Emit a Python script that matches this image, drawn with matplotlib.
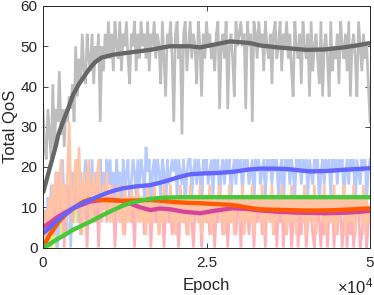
import numpy as np
import matplotlib
matplotlib.use("Agg")
import matplotlib.pyplot as plt

plt.rcParams['font.family'] = ['Liberation Sans', 'DejaVu Sans']
plt.rcParams['mathtext.fontset'] = 'custom'
plt.rcParams['mathtext.rm'] = 'Liberation Sans'

# ---------------- raw (noisy) series, sampled evenly over 0..50000 epochs ----------------
gray_raw = [
    34.4, 25.0, 21.9, 34.4, 28.1, 21.9, 40.6, 25.0, 34.4, 31.2, 43.8, 28.1, 34.4, 25.0, 34.4, 31.2, 37.5, 34.4, 40.6, 31.2,
    50.0, 37.5, 46.9, 40.6, 53.1, 43.8, 40.6, 53.1, 46.9, 43.8, 53.1, 40.6, 50.0, 46.9, 53.1, 31.2, 50.0, 43.8, 53.1, 46.9,
    56.2, 46.9, 53.1, 43.8, 56.2, 50.0, 46.9, 56.2, 43.8, 53.1, 50.0, 56.2, 46.9, 40.6, 53.1, 50.0, 56.2, 43.8, 53.1, 46.9,
    56.2, 50.0, 53.1, 46.9, 56.2, 43.8, 53.1, 50.0, 56.2, 46.9, 53.1, 50.0, 40.6, 56.2, 46.9, 37.5, 53.1, 50.0, 56.2, 46.9,
    31.2, 53.1, 56.2, 46.9, 50.0, 28.1, 53.1, 56.2, 43.8, 50.0, 56.2, 46.9, 53.1, 50.0, 40.6, 56.2, 50.0, 37.5, 53.1, 46.9,
    56.2, 50.0, 53.1, 46.9, 50.0, 43.8, 53.1, 56.2, 34.4, 50.0, 53.1, 46.9, 56.2, 34.4, 50.0, 53.1, 46.9, 37.5, 56.2, 50.0,
    53.1, 56.2, 50.0, 53.1, 34.4, 56.2, 50.0, 53.1, 31.2, 56.2, 53.1, 46.9, 56.2, 50.0, 53.1, 43.8, 56.2, 50.0, 46.9, 53.1,
    40.6, 53.1, 56.2, 46.9, 50.0, 56.2, 43.8, 53.1, 50.0, 56.2, 46.9, 53.1, 43.8, 37.5, 56.2, 50.0, 46.9, 53.1, 40.6, 56.2,
    50.0, 46.9, 53.1, 37.5, 56.2, 43.8, 50.0, 53.1, 46.9, 40.6, 56.2, 37.5, 50.0, 53.1, 46.9, 37.5, 56.2, 43.8, 50.0, 46.9,
    53.1, 40.6, 56.2, 50.0, 46.9, 53.1, 43.8, 56.2, 37.5, 50.0, 53.1, 46.9, 37.5, 56.2, 50.0, 43.8, 53.1, 46.9, 50.0, 40.6, 31.2,
]

blue_raw = [
    3.1, 9.4, 0.0, 12.5, 6.2, 15.6, 3.1, 9.4, 18.8, 0.0, 12.5, 6.2, 21.9, 9.4, 3.1, 15.6, 12.5, 0.0, 18.8, 9.4,
    12.5, 21.9, 6.2, 18.8, 9.4, 15.6, 21.9, 3.1, 18.8, 12.5, 21.9, 9.4, 15.6, 18.8, 6.2, 21.9, 12.5, 18.8, 9.4, 21.9,
    15.6, 21.9, 12.5, 18.8, 9.4, 21.9, 15.6, 18.8, 6.2, 21.9, 12.5, 18.8, 21.9, 9.4, 15.6, 21.9, 18.8, 12.5, 21.9, 15.6,
    21.9, 18.8, 12.5, 25.0, 18.8, 21.9, 9.4, 18.8, 21.9, 15.6, 21.9, 18.8, 12.5, 21.9, 18.8, 6.2, 21.9, 15.6, 18.8, 21.9,
    18.8, 21.9, 12.5, 21.9, 18.8, 15.6, 21.9, 9.4, 18.8, 21.9, 21.9, 12.5, 18.8, 21.9, 15.6, 21.9, 18.8, 6.2, 21.9, 18.8,
    21.9, 15.6, 18.8, 21.9, 12.5, 21.9, 18.8, 21.9, 9.4, 18.8, 21.9, 15.6, 21.9, 18.8, 21.9, 12.5, 18.8, 21.9, 15.6, 21.9,
    18.8, 21.9, 12.5, 21.9, 18.8, 21.9, 15.6, 18.8, 21.9, 9.4, 21.9, 18.8, 21.9, 15.6, 18.8, 21.9, 12.5, 21.9, 18.8, 21.9,
    15.6, 21.9, 18.8, 21.9, 12.5, 18.8, 21.9, 6.2, 21.9, 18.8, 21.9, 15.6, 21.9, 18.8, 12.5, 21.9, 18.8, 21.9, 15.6, 21.9,
    18.8, 21.9, 12.5, 21.9, 18.8, 15.6, 21.9, 18.8, 21.9, 9.4, 18.8, 21.9, 15.6, 21.9, 18.8, 21.9, 12.5, 21.9, 18.8, 21.9,
    15.6, 21.9, 18.8, 21.9, 12.5, 18.8, 21.9, 15.6, 21.9, 18.8, 21.9, 9.4, 21.9, 18.8, 15.6, 21.9, 18.8, 21.9, 12.5, 18.8, 21.9,
]

pink_raw = [
    6.2, 3.1, 9.4, 0.0, 12.5, 6.2, 15.6, 3.1, 12.5, 9.4, 18.8, 6.2, 12.5, 0.0, 15.6, 9.4, 12.5, 18.8, 6.2, 12.5,
    15.6, 9.4, 12.5, 3.1, 15.6, 12.5, 9.4, 0.0, 12.5, 15.6, 9.4, 12.5, 6.2, 15.6, 0.0, 12.5, 9.4, 15.6, 12.5, 6.2,
    12.5, 9.4, 15.6, 12.5, 0.0, 9.4, 12.5, 6.2, 12.5, 9.4, 3.1, 12.5, 9.4, 12.5, 6.2, 9.4, 0.0, 12.5, 9.4, 6.2,
    9.4, 12.5, 3.1, 9.4, 6.2, 12.5, 0.0, 9.4, 12.5, 6.2, 9.4, 3.1, 12.5, 9.4, 0.0, 9.4, 12.5, 6.2, 9.4, 3.1,
    9.4, 12.5, 6.2, 0.0, 9.4, 12.5, 6.2, 9.4, 3.1, 12.5, 9.4, 6.2, 0.0, 9.4, 12.5, 6.2, 9.4, 0.0, 9.4, 12.5,
    6.2, 9.4, 3.1, 12.5, 9.4, 0.0, 9.4, 6.2, 12.5, 9.4, 3.1, 9.4, 12.5, 0.0, 9.4, 6.2, 12.5, 9.4, 3.1, 9.4,
    12.5, 0.0, 9.4, 6.2, 12.5, 9.4, 3.1, 9.4, 12.5, 0.0, 9.4, 6.2, 9.4, 12.5, 3.1, 9.4, 0.0, 12.5, 9.4, 6.2,
    9.4, 3.1, 12.5, 0.0, 9.4, 6.2, 12.5, 0.0, 9.4, 3.1, 12.5, 9.4, 0.0, 6.2, 9.4, 12.5, 0.0, 9.4, 3.1, 12.5,
    9.4, 0.0, 6.2, 12.5, 9.4, 3.1, 0.0, 9.4, 12.5, 6.2, 0.0, 9.4, 3.1, 12.5, 0.0, 9.4, 6.2, 12.5, 0.0, 9.4,
    3.1, 12.5, 9.4, 0.0, 6.2, 9.4, 0.0, 12.5, 3.1, 9.4, 0.0, 6.2, 12.5, 9.4, 0.0, 3.1, 9.4, 12.5, 0.0, 6.2, 9.4,
]

peach_raw = [
    0.0, 3.1, 9.4, 6.2, 12.5, 3.1, 15.6, 9.4, 18.8, 6.2, 12.5, 21.9, 9.4, 15.6, 6.2, 18.8, 31.2, 12.5, 9.4, 15.6,
    21.9, 9.4, 25.0, 12.5, 6.2, 18.8, 9.4, 15.6, 21.9, 6.2, 12.5, 18.8, 9.4, 15.6, 21.9, 12.5, 6.2, 15.6, 9.4, 18.8,
    12.5, 6.2, 15.6, 6.2, 12.5, 9.4, 15.6, 6.2, 12.5, 3.1, 15.6, 6.2, 12.5, 6.2, 15.6, 9.4, 12.5, 6.2, 15.6, 6.2,
    12.5, 6.2, 12.5, 3.1, 15.6, 6.2, 12.5, 6.2, 15.6, 9.4, 12.5, 3.1, 12.5, 6.2, 15.6, 6.2, 12.5, 9.4, 15.6, 6.2,
    12.5, 3.1, 12.5, 6.2, 15.6, 6.2, 12.5, 6.2, 12.5, 3.1, 15.6, 6.2, 12.5, 9.4, 12.5, 6.2, 15.6, 3.1, 12.5, 6.2,
    12.5, 6.2, 15.6, 3.1, 12.5, 6.2, 12.5, 9.4, 15.6, 6.2, 12.5, 3.1, 12.5, 6.2, 15.6, 6.2, 12.5, 3.1, 12.5, 9.4,
    12.5, 6.2, 15.6, 3.1, 12.5, 6.2, 12.5, 6.2, 15.6, 3.1, 12.5, 9.4, 12.5, 6.2, 15.6, 3.1, 12.5, 6.2, 12.5, 6.2,
    15.6, 3.1, 12.5, 6.2, 12.5, 9.4, 15.6, 6.2, 12.5, 3.1, 12.5, 6.2, 15.6, 6.2, 12.5, 3.1, 12.5, 9.4, 12.5, 6.2,
    15.6, 3.1, 12.5, 6.2, 12.5, 6.2, 15.6, 3.1, 12.5, 9.4, 12.5, 6.2, 15.6, 3.1, 12.5, 6.2, 12.5, 6.2, 15.6, 3.1,
    12.5, 6.2, 12.5, 9.4, 15.6, 3.1, 12.5, 6.2, 12.5, 6.2, 15.6, 3.1, 12.5, 9.4, 12.5, 6.2, 15.6, 3.1, 12.5, 6.2, 9.4,
]

lime_raw = [
    0.0, 0.0, 3.1, 0.0, 3.1, 0.0, 3.1, 6.2, 0.0, 3.1, 3.1, 6.2, 3.1, 6.2, 9.4, 3.1, 6.2, 3.1, 9.4, 6.2,
    18.8, 6.2, 12.5, 9.4, 3.1, 12.5, 9.4, 6.2, 12.5, 9.4, 12.5, 6.2, 12.5, 9.4, 12.5, 12.5, 9.4, 12.5, 12.5, 9.4,
    12.5, 12.5, 9.4, 12.5, 12.5, 12.5, 9.4, 12.5, 12.5, 12.5, 12.5, 9.4, 12.5, 12.5, 12.5, 12.5, 12.5, 9.4, 12.5, 12.5,
    12.5, 12.5, 12.5, 12.5, 12.5, 9.4, 12.5, 12.5, 12.5, 12.5, 12.5, 12.5, 12.5, 12.5, 12.5, 12.5, 12.5, 12.5, 12.5, 12.5,
    12.5, 12.5, 12.5, 12.5, 12.5, 12.5, 6.2, 12.5, 9.4, 12.5, 12.5, 12.5, 12.5, 12.5, 12.5, 12.5, 12.5, 12.5, 12.5, 12.5,
    12.5, 12.5, 12.5, 12.5, 12.5, 12.5, 12.5, 12.5, 12.5, 12.5, 12.5, 12.5, 12.5, 12.5, 12.5, 9.4, 12.5, 12.5, 12.5, 12.5,
    12.5, 12.5, 9.4, 12.5, 12.5, 12.5, 12.5, 12.5, 12.5, 12.5, 12.5, 12.5, 12.5, 12.5, 12.5, 12.5, 12.5, 12.5, 12.5, 12.5,
    12.5, 12.5, 12.5, 12.5, 12.5, 12.5, 12.5, 12.5, 12.5, 12.5, 12.5, 12.5, 12.5, 9.4, 12.5, 12.5, 12.5, 12.5, 12.5, 12.5,
    12.5, 12.5, 12.5, 12.5, 12.5, 12.5, 12.5, 12.5, 12.5, 12.5, 12.5, 12.5, 9.4, 12.5, 12.5, 9.4, 12.5, 12.5, 9.4, 12.5,
    12.5, 12.5, 12.5, 12.5, 12.5, 12.5, 12.5, 12.5, 12.5, 12.5, 12.5, 12.5, 12.5, 12.5, 12.5, 12.5, 12.5, 12.5, 12.5, 12.5, 12.5,
]

# ---------------- smoothed curves (epoch, value) ----------------
gray_sm_x = [0, 1000, 2000, 2340, 3000, 4000, 4590, 5500, 6500, 7190, 8000, 8980, 10700, 13000, 16360, 19400,
             22480, 24000, 25540, 28600, 31650, 33180, 36000, 40320, 43000, 45870, 48000, 50000]
gray_sm_y = [13.5, 19.5, 25.5, 28.0, 31.0, 35.2, 37.9, 40.6, 43.0, 44.6, 46.1, 47.2, 47.9, 48.4, 49.1, 50.0,
             50.0, 49.7, 50.2, 51.2, 50.8, 50.2, 49.7, 49.1, 49.2, 49.7, 50.2, 50.8]

blue_sm_x = [0, 1000, 2000, 3300, 4600, 5900, 7200, 8500, 9700, 11000, 12200, 14300, 16400, 17900, 19400, 21000,
             22500, 24500, 26500, 29000, 31600, 33200, 35300, 37300, 39000, 40800, 43300, 45900, 48000, 50000]
blue_sm_y = [3.5, 4.9, 6.4, 8.2, 9.75, 10.9, 11.8, 12.7, 13.5, 14.2, 14.7, 15.2, 15.5, 16.1, 16.8, 17.6,
             18.2, 18.4, 18.5, 18.8, 19.4, 19.6, 19.6, 19.5, 19.2, 18.9, 19.0, 19.3, 19.5, 19.7]

orange_sm_x = [0, 500, 1000, 1800, 2600, 3600, 4700, 5500, 6200, 7200, 9000, 12000, 14300, 16400, 18200, 20000,
               22000, 24000, 26300, 28600, 30000, 31000, 32200, 33200, 35000, 37500, 40000, 42500, 45000, 47500, 50000]
orange_sm_y = [0.0, 1.6, 3.1, 5.0, 6.8, 8.4, 9.75, 10.7, 11.4, 12.0, 11.8, 11.6, 11.7, 11.8, 11.6, 11.3,
               11.1, 11.0, 10.8, 10.6, 10.3, 10.0, 9.7, 9.5, 9.4, 9.3, 9.2, 9.2, 9.3, 9.5, 9.75]

magenta_sm_x = [0, 1000, 2000, 3300, 4600, 5900, 7200, 8500, 9700, 11000, 12200, 13500, 14800, 16400, 17900,
                19400, 21500, 24000, 26500, 29000, 31000, 33200, 35700, 38200, 40800, 43300, 47000, 50000]
magenta_sm_y = [5.0, 6.1, 7.3, 8.6, 9.75, 10.6, 11.4, 11.7, 11.9, 11.8, 11.5, 10.8, 10.0, 9.3, 9.7,
                9.5, 8.9, 8.5, 9.2, 9.75, 9.6, 9.2, 8.9, 8.7, 8.6, 8.5, 8.7, 9.1]

green_sm_x = [0, 1000, 2000, 3300, 4600, 5900, 7200, 8500, 9700, 11000, 12200, 13500, 14800, 16400, 18500,
              21000, 30000, 40000, 50000]
green_sm_y = [0.0, 0.8, 1.9, 3.1, 4.4, 5.4, 6.4, 7.5, 8.5, 9.5, 10.4, 11.1, 11.6, 12.1, 12.4,
              12.5, 12.5, 12.5, 12.5]

x_ticks = [0, 25000, 50000]
x_tick_labels = ['0', '2.5', '5']
y_ticks = [0, 10, 20, 30, 40, 50, 60]

# ---------------- figure ----------------
W, H = 374, 295
fig = plt.figure(figsize=(W / 100, H / 100), dpi=100)
ax = fig.add_axes([43 / W, 1 - 247.5 / H, (370 - 43) / W, (247.5 - 6) / H])

raw_lw = 1.9
def raw_plot(vals, color):
    xs = np.linspace(0, 50000, len(vals))
    ax.plot(xs, vals, color=color, lw=raw_lw, solid_joinstyle='miter')

raw_plot(lime_raw, '#d6f07c')
raw_plot(gray_raw, '#bdbdbd')
raw_plot(blue_raw, '#b5c9ff')
raw_plot(pink_raw, '#ffb0b8')
raw_plot(peach_raw, '#ffc3a6')

sm_lw = 3.1
ax.plot(gray_sm_x, gray_sm_y, color='#666666', lw=sm_lw, solid_capstyle='butt')
ax.plot(magenta_sm_x, magenta_sm_y, color='#d6439b', lw=sm_lw, solid_capstyle='butt')
ax.plot(orange_sm_x, orange_sm_y, color='#ff5a00', lw=sm_lw, solid_capstyle='butt')
ax.plot(blue_sm_x, blue_sm_y, color='#6464ff', lw=sm_lw, solid_capstyle='butt')
ax.plot(green_sm_x, green_sm_y, color='#46c83a', lw=sm_lw, solid_capstyle='butt')

ax.set_xlim(0, 50000)
ax.set_ylim(0, 60)
ax.set_xticks(x_ticks)
ax.set_xticklabels(x_tick_labels)
ax.set_yticks(y_ticks)
ax.tick_params(direction='in', top=True, right=True, length=3.5, width=0.6,
               colors='#262626', labelsize=11)
ax.tick_params(axis='x', pad=6)
ax.tick_params(axis='y', pad=4)
for s in ax.spines.values():
    s.set_color('#262626')
    s.set_linewidth(0.7)

ax.set_xlabel('Epoch', fontsize=12, color='#262626', labelpad=6)
ax.set_ylabel('Total QoS', fontsize=12, color='#262626', labelpad=2)

fig.text(373 / W, 1 - 286 / H, r'$\times\mathregular{10^{4}}$', ha='right', va='center',
         fontsize=12, color='#262626')

fig.savefig('out.png', dpi=100)
